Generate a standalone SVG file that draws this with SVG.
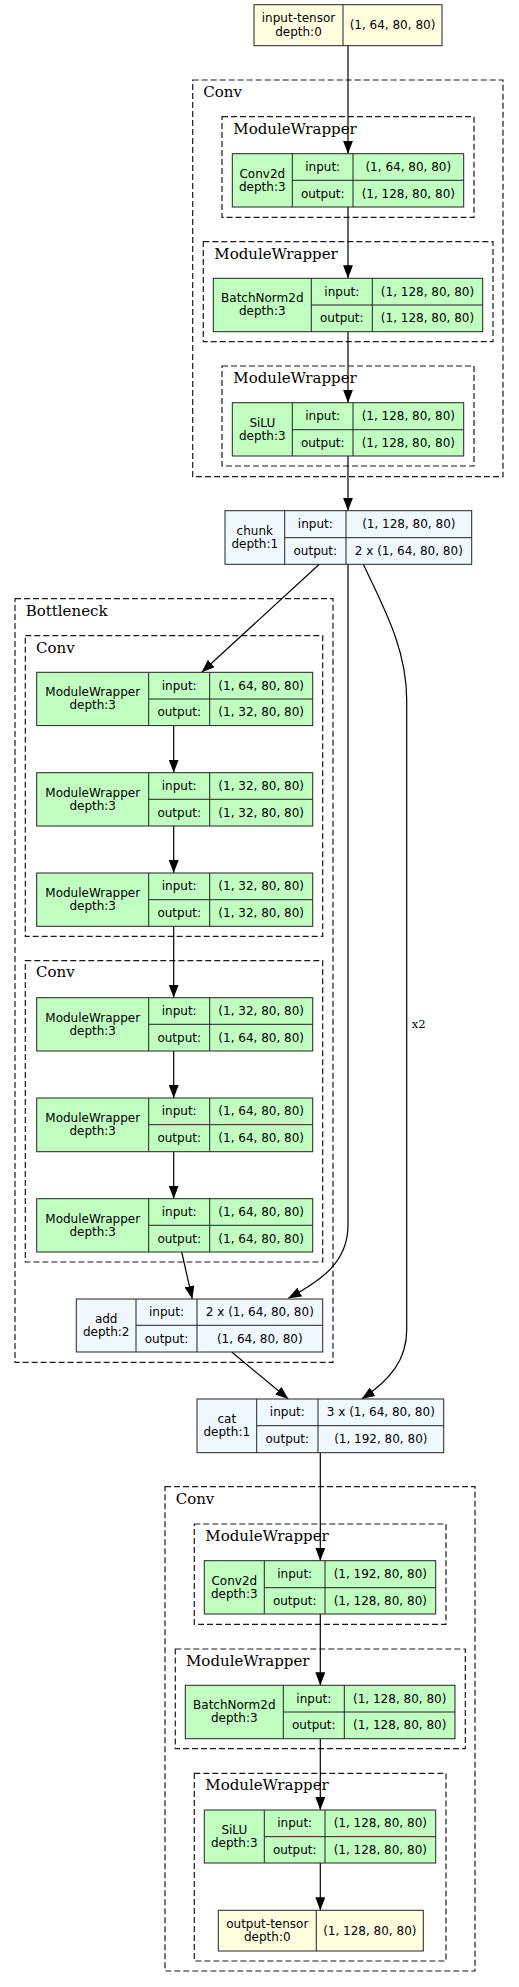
<svg xmlns="http://www.w3.org/2000/svg" width="519" height="1987" viewBox="0 0 519 1987">
<style>
.cl{fill:none;stroke:#1a1a1a;stroke-width:1.2;stroke-dasharray:6,3}
.clt{font-family:"DejaVu Serif",serif;font-size:15px;fill:#000}
.nd{stroke:#222;stroke-width:1}
.g{fill:#c1ffc1}
.y{fill:#ffffe0}
.b{fill:#f0f8ff}
.ln{stroke:#222;stroke-width:1;fill:none}
text.t{font-family:"DejaVu Sans",sans-serif;font-size:12px;fill:#000;text-anchor:middle}
.e{fill:none;stroke:#000;stroke-width:1.2;marker-end:url(#ah)}
.el{font-family:"DejaVu Serif",serif;font-size:11.7px;fill:#000}
</style>
<defs>
<marker id="ah" viewBox="0 0 13 10" refX="13" refY="5" markerWidth="13" markerHeight="10" markerUnits="userSpaceOnUse" orient="auto">
<path d="M0,0 L13,5 L0,10 z" fill="#000"/>
</marker>
</defs>
<rect width="519" height="1987" fill="#fff"/>

<g id="clusters">
<g id="cluster-conv1"><rect class="cl" x="192.7" y="80" width="310.3" height="396.7"/><text class="clt" x="203.3" y="97">Conv</text></g>
<g id="cluster-mw1"><rect class="cl" x="222" y="116.7" width="252" height="100.6"/><text class="clt" x="233.3" y="134">ModuleWrapper</text></g>
<g id="cluster-mw2"><rect class="cl" x="203.3" y="241.7" width="289.7" height="100"/><text class="clt" x="214.3" y="259">ModuleWrapper</text></g>
<g id="cluster-mw3"><rect class="cl" x="222" y="366" width="252" height="100"/><text class="clt" x="233.3" y="383">ModuleWrapper</text></g>
<g id="cluster-bottleneck"><rect class="cl" x="15" y="598.7" width="318" height="763.6"/><text class="clt" x="25.7" y="615.7">Bottleneck</text></g>
<g id="cluster-conv2"><rect class="cl" x="25.3" y="635.7" width="297.4" height="300.6"/><text class="clt" x="36" y="652.7">Conv</text></g>
<g id="cluster-conv3"><rect class="cl" x="25.3" y="960.7" width="297.4" height="301.3"/><text class="clt" x="36" y="977.3">Conv</text></g>
<g id="cluster-conv4"><rect class="cl" x="165" y="1486.7" width="310" height="484.3"/><text class="clt" x="175.7" y="1503.7">Conv</text></g>
<g id="cluster-mw4"><rect class="cl" x="194.3" y="1524" width="251.7" height="100.3"/><text class="clt" x="205.3" y="1540.7">ModuleWrapper</text></g>
<g id="cluster-mw5"><rect class="cl" x="175.3" y="1649" width="290" height="99.7"/><text class="clt" x="186" y="1665.7">ModuleWrapper</text></g>
<g id="cluster-mw6"><rect class="cl" x="194.3" y="1773.3" width="251.7" height="187.7"/><text class="clt" x="205.3" y="1790">ModuleWrapper</text></g>
</g>

<g id="edges">
<path class="e" d="M348,45.7 V153.7"/>
<path class="e" d="M348,207 V278.3"/>
<path class="e" d="M348,331.7 V402.7"/>
<path class="e" d="M348,456 V510.7"/>
<path class="e" d="M319.3,564.3 L201.7,672.3"/>
<path class="e" d="M173.7,725.7 V772.7"/>
<path class="e" d="M173.7,826 V873"/>
<path class="e" d="M173.7,926.3 V997.7"/>
<path class="e" d="M173.7,1051 V1098"/>
<path class="e" d="M173.7,1151.7 V1198.7"/>
<path class="e" d="M181.7,1252 L192.3,1299"/>
<path class="e" d="M348,564.3 V1225 C348,1262 322,1280 288.3,1298.3"/>
<path class="e" d="M363.3,564.3 C385,610 406.7,650 406.7,700 V1330 C406.7,1360 390,1380 361.7,1399"/>
<text class="el" x="411.7" y="1028.3">x2</text>
<path class="e" d="M231.7,1352 L288.3,1399"/>
<path class="e" d="M320.3,1452.7 V1560.7"/>
<path class="e" d="M320.3,1614 V1685.3"/>
<path class="e" d="M320.3,1738.7 V1810"/>
<path class="e" d="M320.3,1863 V1910.3"/>
</g>

<g id="input-tensor">
<rect class="nd y" x="254" y="4.7" width="188" height="41"/>
<path class="ln" d="M343,4.7 V45.7"/>
<text class="t" x="298.5" y="22">input-tensor</text>
<text class="t" x="298.5" y="35.5">depth:0</text>
<text class="t" x="392.5" y="29.2">(1, 64, 80, 80)</text>
</g>

<g id="conv2d-1">
<rect class="nd g" x="232.3" y="153.7" width="231.4" height="53.3"/>
<path class="ln" d="M292.3,153.7 V207 M353,153.7 V207 M292.3,180.3 H463.7"/>
<text class="t" x="262.3" y="177.7">Conv2d</text>
<text class="t" x="262.3" y="190.7">depth:3</text>
<text class="t" x="322.7" y="171">input:</text>
<text class="t" x="322.7" y="197.7">output:</text>
<text class="t" x="408.3" y="171">(1, 64, 80, 80)</text>
<text class="t" x="408.3" y="197.7">(1, 128, 80, 80)</text>
</g>

<g id="batchnorm2d-1">
<rect class="nd g" x="213.3" y="278.3" width="269.4" height="53.4"/>
<path class="ln" d="M311.3,278.3 V331.7 M372.3,278.3 V331.7 M311.3,305 H482.7"/>
<text class="t" x="262.3" y="302.4">BatchNorm2d</text>
<text class="t" x="262.3" y="315.4">depth:3</text>
<text class="t" x="341.8" y="295.7">input:</text>
<text class="t" x="341.8" y="322.4">output:</text>
<text class="t" x="427.5" y="295.7">(1, 128, 80, 80)</text>
<text class="t" x="427.5" y="322.4">(1, 128, 80, 80)</text>
</g>

<g id="silu-1">
<rect class="nd g" x="232.3" y="402.7" width="231.4" height="53.3"/>
<path class="ln" d="M292.3,402.7 V456 M353,402.7 V456 M292.3,429.7 H463.7"/>
<text class="t" x="262.3" y="426.7">SiLU</text>
<text class="t" x="262.3" y="439.7">depth:3</text>
<text class="t" x="322.7" y="420">input:</text>
<text class="t" x="322.7" y="446.7">output:</text>
<text class="t" x="408.3" y="420">(1, 128, 80, 80)</text>
<text class="t" x="408.3" y="446.7">(1, 128, 80, 80)</text>
</g>

<g id="chunk">
<rect class="nd b" x="225" y="510.7" width="246.7" height="53.6"/>
<path class="ln" d="M284.7,510.7 V564.3 M346,510.7 V564.3 M284.7,537.7 H471.7"/>
<text class="t" x="254.8" y="534.9">chunk</text>
<text class="t" x="254.8" y="547.9">depth:1</text>
<text class="t" x="315.3" y="528.2">input:</text>
<text class="t" x="315.3" y="555">output:</text>
<text class="t" x="408.8" y="528.2">(1, 128, 80, 80)</text>
<text class="t" x="408.8" y="555">2 x (1, 64, 80, 80)</text>
</g>

<g id="mw-node-1">
<rect class="nd g" x="36.7" y="672.3" width="276" height="53.3"/>
<path class="ln" d="M148.7,672.3 V725.6 M209.7,672.3 V725.6 M148.7,699 H312.7"/>
<text class="t" x="92.7" y="696.3">ModuleWrapper</text>
<text class="t" x="92.7" y="709.3">depth:3</text>
<text class="t" x="179.2" y="689.6">input:</text>
<text class="t" x="179.2" y="716.3">output:</text>
<text class="t" x="261.2" y="689.6">(1, 64, 80, 80)</text>
<text class="t" x="261.2" y="716.3">(1, 32, 80, 80)</text>
</g>

<g id="mw-node-2">
<rect class="nd g" x="36.7" y="772.7" width="276" height="53.3"/>
<path class="ln" d="M148.7,772.7 V826 M209.7,772.7 V826 M148.7,799.3 H312.7"/>
<text class="t" x="92.7" y="796.7">ModuleWrapper</text>
<text class="t" x="92.7" y="809.7">depth:3</text>
<text class="t" x="179.2" y="790">input:</text>
<text class="t" x="179.2" y="816.7">output:</text>
<text class="t" x="261.2" y="790">(1, 32, 80, 80)</text>
<text class="t" x="261.2" y="816.7">(1, 32, 80, 80)</text>
</g>

<g id="mw-node-3">
<rect class="nd g" x="36.7" y="873" width="276" height="53.3"/>
<path class="ln" d="M148.7,873 V926.3 M209.7,873 V926.3 M148.7,899.7 H312.7"/>
<text class="t" x="92.7" y="897">ModuleWrapper</text>
<text class="t" x="92.7" y="910">depth:3</text>
<text class="t" x="179.2" y="890.3">input:</text>
<text class="t" x="179.2" y="917">output:</text>
<text class="t" x="261.2" y="890.3">(1, 32, 80, 80)</text>
<text class="t" x="261.2" y="917">(1, 32, 80, 80)</text>
</g>

<g id="mw-node-4">
<rect class="nd g" x="36.7" y="997.7" width="276" height="53.3"/>
<path class="ln" d="M148.7,997.7 V1051 M209.7,997.7 V1051 M148.7,1024.3 H312.7"/>
<text class="t" x="92.7" y="1021.7">ModuleWrapper</text>
<text class="t" x="92.7" y="1034.7">depth:3</text>
<text class="t" x="179.2" y="1015">input:</text>
<text class="t" x="179.2" y="1041.7">output:</text>
<text class="t" x="261.2" y="1015">(1, 32, 80, 80)</text>
<text class="t" x="261.2" y="1041.7">(1, 64, 80, 80)</text>
</g>

<g id="mw-node-5">
<rect class="nd g" x="36.7" y="1098" width="276" height="53.7"/>
<path class="ln" d="M148.7,1098 V1151.7 M209.7,1098 V1151.7 M148.7,1124.7 H312.7"/>
<text class="t" x="92.7" y="1122.2">ModuleWrapper</text>
<text class="t" x="92.7" y="1135.2">depth:3</text>
<text class="t" x="179.2" y="1115.4">input:</text>
<text class="t" x="179.2" y="1142.2">output:</text>
<text class="t" x="261.2" y="1115.4">(1, 64, 80, 80)</text>
<text class="t" x="261.2" y="1142.2">(1, 64, 80, 80)</text>
</g>

<g id="mw-node-6">
<rect class="nd g" x="36.7" y="1198.7" width="276" height="53.3"/>
<path class="ln" d="M148.7,1198.7 V1252 M209.7,1198.7 V1252 M148.7,1225.3 H312.7"/>
<text class="t" x="92.7" y="1222.7">ModuleWrapper</text>
<text class="t" x="92.7" y="1235.7">depth:3</text>
<text class="t" x="179.2" y="1216">input:</text>
<text class="t" x="179.2" y="1242.7">output:</text>
<text class="t" x="261.2" y="1216">(1, 64, 80, 80)</text>
<text class="t" x="261.2" y="1242.7">(1, 64, 80, 80)</text>
</g>

<g id="add">
<rect class="nd b" x="76.3" y="1299" width="246.4" height="53"/>
<path class="ln" d="M136,1299 V1352 M197,1299 V1352 M136,1325.3 H322.7"/>
<text class="t" x="106.2" y="1322.9">add</text>
<text class="t" x="106.2" y="1335.9">depth:2</text>
<text class="t" x="166.5" y="1316.2">input:</text>
<text class="t" x="166.5" y="1342.7">output:</text>
<text class="t" x="259.8" y="1316.2">2 x (1, 64, 80, 80)</text>
<text class="t" x="259.8" y="1342.7">(1, 64, 80, 80)</text>
</g>

<g id="cat">
<rect class="nd b" x="197" y="1399" width="246.7" height="53.7"/>
<path class="ln" d="M256.7,1399 V1452.7 M318,1399 V1452.7 M256.7,1425.7 H443.7"/>
<text class="t" x="226.8" y="1423.2">cat</text>
<text class="t" x="226.8" y="1436.2">depth:1</text>
<text class="t" x="287.3" y="1416.4">input:</text>
<text class="t" x="287.3" y="1443.2">output:</text>
<text class="t" x="380.8" y="1416.4">3 x (1, 64, 80, 80)</text>
<text class="t" x="380.8" y="1443.2">(1, 192, 80, 80)</text>
</g>

<g id="conv2d-2">
<rect class="nd g" x="204.3" y="1560.7" width="231.4" height="53.3"/>
<path class="ln" d="M264.3,1560.7 V1614 M325,1560.7 V1614 M264.3,1587.7 H435.7"/>
<text class="t" x="234.3" y="1584.7">Conv2d</text>
<text class="t" x="234.3" y="1597.7">depth:3</text>
<text class="t" x="294.7" y="1578">input:</text>
<text class="t" x="294.7" y="1604.7">output:</text>
<text class="t" x="380.3" y="1578">(1, 192, 80, 80)</text>
<text class="t" x="380.3" y="1604.7">(1, 128, 80, 80)</text>
</g>

<g id="batchnorm2d-2">
<rect class="nd g" x="185.3" y="1685.3" width="269.7" height="53.4"/>
<path class="ln" d="M283.3,1685.3 V1738.7 M344.3,1685.3 V1738.7 M283.3,1712 H455"/>
<text class="t" x="234.3" y="1709.4">BatchNorm2d</text>
<text class="t" x="234.3" y="1722.4">depth:3</text>
<text class="t" x="313.8" y="1702.7">input:</text>
<text class="t" x="313.8" y="1729.4">output:</text>
<text class="t" x="399.7" y="1702.7">(1, 128, 80, 80)</text>
<text class="t" x="399.7" y="1729.4">(1, 128, 80, 80)</text>
</g>

<g id="silu-2">
<rect class="nd g" x="204.3" y="1810" width="231.4" height="53"/>
<path class="ln" d="M264.3,1810 V1863 M325,1810 V1863 M264.3,1836.7 H435.7"/>
<text class="t" x="234.3" y="1833.9">SiLU</text>
<text class="t" x="234.3" y="1846.9">depth:3</text>
<text class="t" x="294.7" y="1827.3">input:</text>
<text class="t" x="294.7" y="1853.8">output:</text>
<text class="t" x="380.3" y="1827.3">(1, 128, 80, 80)</text>
<text class="t" x="380.3" y="1853.8">(1, 128, 80, 80)</text>
</g>

<g id="output-tensor">
<rect class="nd y" x="218.3" y="1910.3" width="205" height="40.7"/>
<path class="ln" d="M316.3,1910.3 V1951"/>
<text class="t" x="267.3" y="1927.6">output-tensor</text>
<text class="t" x="267.3" y="1941.1">depth:0</text>
<text class="t" x="369.8" y="1934.8">(1, 128, 80, 80)</text>
</g>
</svg>
